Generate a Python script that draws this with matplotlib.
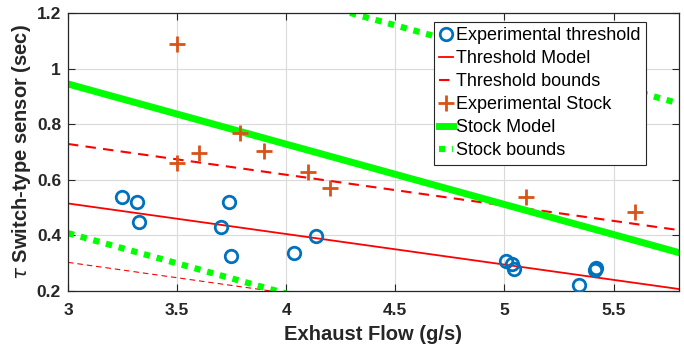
import matplotlib
matplotlib.use("Agg")
import matplotlib.pyplot as plt

plt.rcParams["font.family"] = ["Liberation Sans", "DejaVu Sans"]
plt.rcParams["mathtext.fontset"] = "dejavusans"

# experimental threshold points
thr_x = [3.246, 3.315, 3.327, 3.70, 3.74, 3.749, 4.037, 4.138,
         5.005, 5.035, 5.046, 5.344, 5.413, 5.42]
thr_y = [0.537, 0.521, 0.447, 0.431, 0.521, 0.326, 0.338, 0.398,
         0.308, 0.297, 0.279, 0.222, 0.276, 0.283]

# experimental stock points
stk_x = [3.5, 3.5, 3.6, 3.79, 3.9, 4.1, 4.2, 5.1, 5.6]
stk_y = [1.088, 0.659, 0.697, 0.767, 0.705, 0.628, 0.569, 0.537, 0.483]

# model lines (end points)
line_x = [3.0, 5.8]
thr_model = [0.515, 0.207]
thr_upper = [0.729, 0.419]
thr_lower = [0.303, -0.007]
stk_model = [0.945, 0.338]
stk_upper = [1.48, 0.875]
stk_lower = [0.408, -0.2]

blue = "#0072BD"
orange = "#D95319"
red = "#FF0000"
green = "#00FF00"

fig = plt.figure(figsize=(6.84, 3.54), dpi=100)
ax = fig.add_axes([0.0994, 0.178, 0.8933, 0.785])

h1, = ax.plot(thr_x, thr_y, "o", mfc="none", mec=blue, mew=2, ms=9,
              label="Experimental threshold", zorder=5)
h2, = ax.plot(line_x, thr_model, color=red, lw=1.3, label="Threshold Model")
h3, = ax.plot(line_x, thr_upper, color=red, lw=1.5, ls=(0, (5, 3.5)),
              label="Threshold bounds")
ax.plot(line_x, thr_lower, color=red, lw=0.8, ls=(0, (5, 3.5)))
h4, = ax.plot(stk_x, stk_y, "+", color=orange, mew=2, ms=12,
              label="Experimental Stock", zorder=5)
h5, = ax.plot(line_x, stk_model, color=green, lw=5, label="Stock Model")
h6, = ax.plot(line_x, stk_upper, color=green, lw=4.5, ls=(0, (1, 1.1)),
              label="Stock bounds")
ax.plot(line_x, stk_lower, color=green, lw=4.5, ls=(0, (1, 1.1)))

ax.set_xlim(3, 5.8)
ax.set_ylim(0.2, 1.2)
ax.set_xticks([3, 3.5, 4, 4.5, 5, 5.5])
ax.set_xticklabels(["3", "3.5", "4", "4.5", "5", "5.5"])
ax.set_yticks([0.2, 0.4, 0.6, 0.8, 1.0, 1.2])
ax.set_yticklabels(["0.2", "0.4", "0.6", "0.8", "1", "1.2"])
ax.grid(True, color="#DADADA", lw=0.8)
ax.set_axisbelow(True)
ax.tick_params(direction="in", top=True, right=True, length=5, width=0.8,
               labelsize=12.5, colors="#262626")
ax.tick_params(axis="x", pad=9)
ax.tick_params(axis="y", pad=5)
for lbl in ax.get_xticklabels() + ax.get_yticklabels():
    lbl.set_fontweight("bold")
for s in ax.spines.values():
    s.set_color("#262626")
    s.set_linewidth(0.9)

ax.set_xlabel("Exhaust Flow (g/s)", fontsize=14.5, fontweight="bold",
              color="#262626", labelpad=5)
ax.set_ylabel(r"$\tau$ Switch-type sensor (sec)", fontsize=14.5,
              fontweight="bold", color="#262626", labelpad=3)

leg = ax.legend(handles=[h1, h2, h3, h4, h5, h6], loc="upper right",
                bbox_to_anchor=(0.946, 0.968), borderaxespad=0, fontsize=13,
                handlelength=0.8, handletextpad=0.15, labelspacing=0.33,
                borderpad=0.3, fancybox=False, framealpha=1,
                edgecolor="#262626")
leg.get_frame().set_linewidth(0.8)

fig.savefig("out.png", dpi=100)
